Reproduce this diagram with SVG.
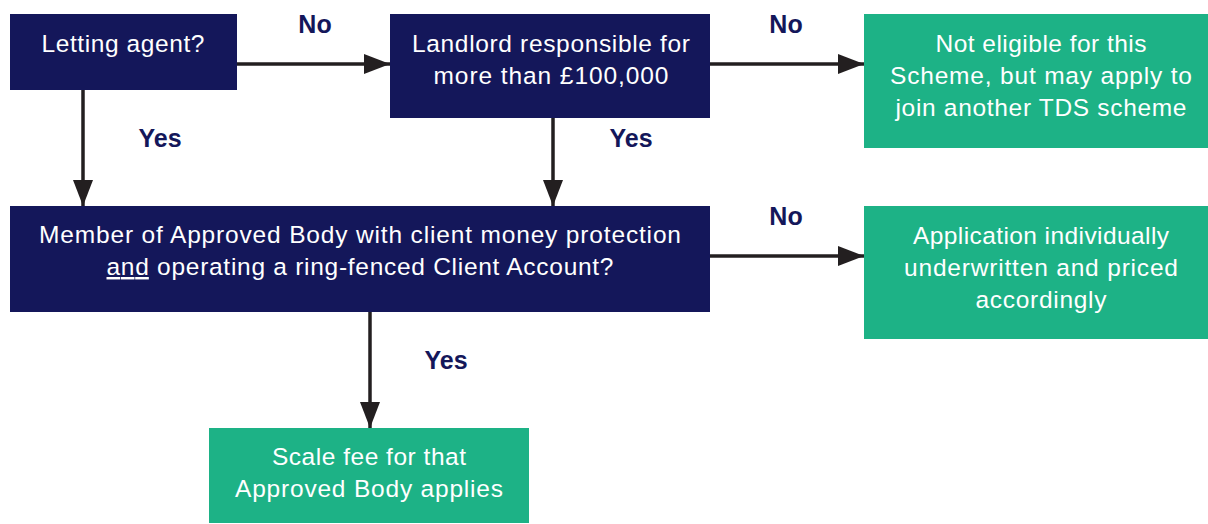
<svg xmlns="http://www.w3.org/2000/svg" width="1208" height="524" viewBox="0 0 1208 524">
<defs>
<style>
.navy{fill:#14175a}
.green{fill:#1db286}
.t{font-family:"Liberation Sans",Arial,sans-serif;font-size:24.5px;fill:#ffffff;text-anchor:middle}
.lbl{font-family:"Liberation Sans",Arial,sans-serif;font-size:25px;font-weight:bold;fill:#14175a;text-anchor:middle}
.c{stroke:#231f20;stroke-width:3.5;fill:none}
</style>
<marker id="ah" viewBox="0 0 26 20" refX="26" refY="10" markerWidth="26" markerHeight="20" markerUnits="userSpaceOnUse" orient="auto">
<path d="M0,0 L26,10 L0,20 Z" fill="#231f20"/>
</marker>
</defs>
<rect width="1208" height="524" fill="#ffffff"/>
<g id="connectors">
<path class="c" d="M237,64 H390" marker-end="url(#ah)"/>
<path class="c" d="M83,90 V206" marker-end="url(#ah)"/>
<path class="c" d="M553,118 V206" marker-end="url(#ah)"/>
<path class="c" d="M710,64 H864" marker-end="url(#ah)"/>
<path class="c" d="M710,256 H864" marker-end="url(#ah)"/>
<path class="c" d="M370,312 V428" marker-end="url(#ah)"/>
<text class="lbl" x="315" y="33">No</text>
<text class="lbl" x="786" y="33">No</text>
<text class="lbl" x="160" y="147">Yes</text>
<text class="lbl" x="631" y="147">Yes</text>
<text class="lbl" x="786" y="225">No</text>
<text class="lbl" x="446" y="369">Yes</text>
</g>
<g id="letting-agent">
<rect class="navy" x="10" y="14" width="227" height="76"/>
<text class="t" x="123" y="52" textLength="163" lengthAdjust="spacing">Letting agent?</text>
</g>
<g id="landlord">
<rect class="navy" x="390" y="14" width="320" height="104"/>
<text class="t" x="551" y="52" textLength="278" lengthAdjust="spacing">Landlord responsible for</text>
<text class="t" x="551" y="84" textLength="235" lengthAdjust="spacing">more than £100,000</text>
</g>
<g id="not-eligible">
<rect class="green" x="864" y="14" width="344" height="134"/>
<text class="t" x="1041" y="52" textLength="211" lengthAdjust="spacing">Not eligible for this</text>
<text class="t" x="1041" y="84" textLength="302" lengthAdjust="spacing">Scheme, but may apply to</text>
<text class="t" x="1041" y="116" textLength="291" lengthAdjust="spacing">join another TDS scheme</text>
</g>
<g id="member">
<rect class="navy" x="10" y="206" width="700" height="106"/>
<text class="t" x="360" y="243" textLength="642" lengthAdjust="spacing">Member of Approved Body with client money protection</text>
<text class="t" x="360" y="275" textLength="507" lengthAdjust="spacing"><tspan text-decoration="underline">and</tspan> operating a ring-fenced Client Account?</text>
</g>
<g id="individually">
<rect class="green" x="864" y="206" width="344" height="133"/>
<text class="t" x="1041" y="244" textLength="256" lengthAdjust="spacing">Application individually</text>
<text class="t" x="1041" y="276" textLength="274" lengthAdjust="spacing">underwritten and priced</text>
<text class="t" x="1041" y="308" textLength="131" lengthAdjust="spacing">accordingly</text>
</g>
<g id="scale-fee">
<rect class="green" x="209" y="428" width="320" height="95"/>
<text class="t" x="369" y="465" textLength="194" lengthAdjust="spacing">Scale fee for that</text>
<text class="t" x="369" y="497" textLength="268" lengthAdjust="spacing">Approved Body applies</text>
</g>
</svg>
